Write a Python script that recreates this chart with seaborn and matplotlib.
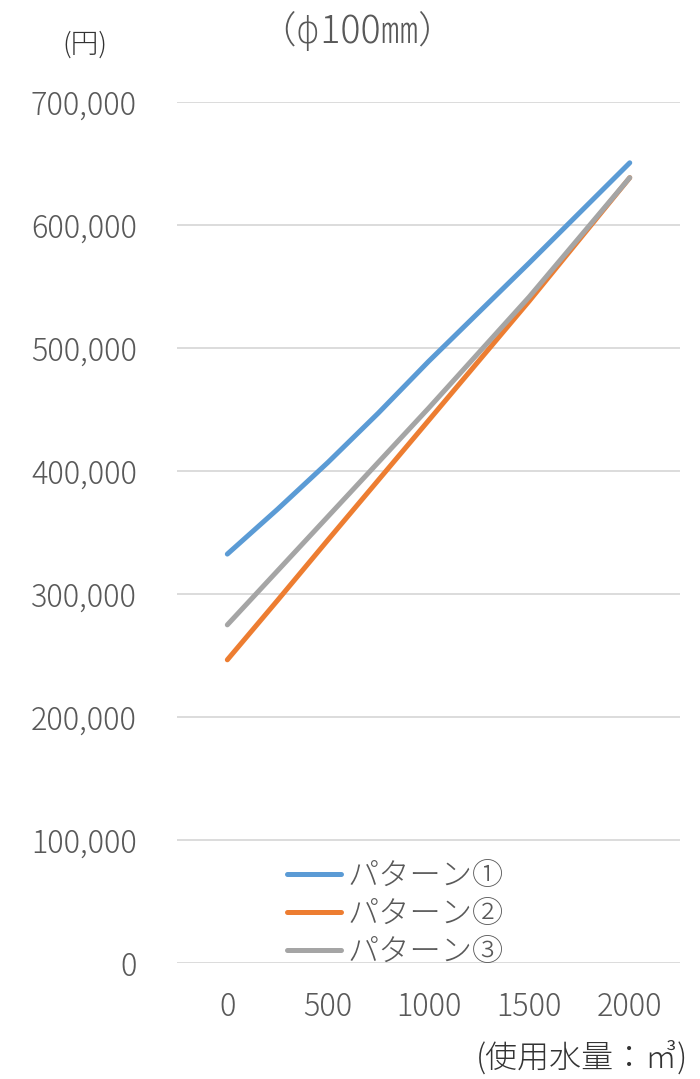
import numpy as np
import pandas as pd
import matplotlib.pyplot as plt
import seaborn as sns
from matplotlib.ticker import FuncFormatter

# 使用水量（㎥）と料金（円）
usage = [0, 250, 500, 750, 1000, 1500, 2000]
pattern1 = [332500, 369000, 407000, 447000, 489000, 569000, 650400]
pattern2 = [246600, 295000, 344000, 392500, 441000, 538000, 638300]
pattern3 = [275000, 319000, 363000, 407000, 451000, 541400, 638300]
labels = ['パターン①', 'パターン②', 'パターン③']
colors = ['#5B9BD5', '#ED7D31', '#A5A5A5']
y_ticks = [0, 100000, 200000, 300000, 400000, 500000, 600000, 700000]
x_ticks = [0, 500, 1000, 1500, 2000]

df = pd.DataFrame({
    '使用水量': usage * 3,
    '金額': pattern1 + pattern2 + pattern3,
    'パターン': np.repeat(labels, len(usage)),
})

sns.set_style('white')
plt.rcParams['font.family'] = ['Noto Sans CJK JP', 'DejaVu Sans']
plt.rcParams['font.weight'] = 'light'
txt = '#595959'

fig = plt.figure(figsize=(7, 10.79), dpi=100)
ax = fig.add_axes([0.2529, 0.1072, 0.7186, 0.7985])
sns.lineplot(data=df, x='使用水量', y='金額', hue='パターン', hue_order=labels,
             palette=colors, linewidth=3.6, solid_capstyle='round', ax=ax, zorder=3)

ax.set_xlim(-250, 2250)
ax.set_ylim(0, 700000)
ax.set_yticks(y_ticks)
ax.set_xticks(x_ticks)
ax.yaxis.set_major_formatter(FuncFormatter(lambda v, p: f'{int(v):,}'))
ax.grid(axis='y', color='#D9D9D9', linewidth=1.3)
ax.grid(axis='x', visible=False)
sns.despine(ax=ax, left=True, bottom=True)
ax.tick_params(axis='both', length=0, labelsize=22, colors=txt)
ax.tick_params(axis='y', pad=29)
ax.tick_params(axis='x', pad=20)
ax.set_xlabel('')
ax.set_ylabel('')

leg = ax.legend(loc='center left', bbox_to_anchor=(287 / 700, 1 - 914 / 1079),
                bbox_transform=fig.transFigure, frameon=False, fontsize=22.5,
                handlelength=1.72, handletextpad=0.2, labelspacing=0.2,
                borderpad=0, borderaxespad=0)
for t in leg.get_texts():
    t.set_color(txt)

fig.text(357 / 700, 1 - 32 / 1079, '（ϕ100㎜）', ha='center', va='center',
         fontsize=27, color=txt)
fig.text(85 / 700, 1 - 45 / 1079, '(円)', ha='center', va='center',
         fontsize=20, color='#333333')
fig.text(688 / 700, 1 - 1058 / 1079, '(使用水量：㎥)', ha='right', va='center',
         fontsize=23, color='#333333')

fig.savefig('out.png', dpi=100)
